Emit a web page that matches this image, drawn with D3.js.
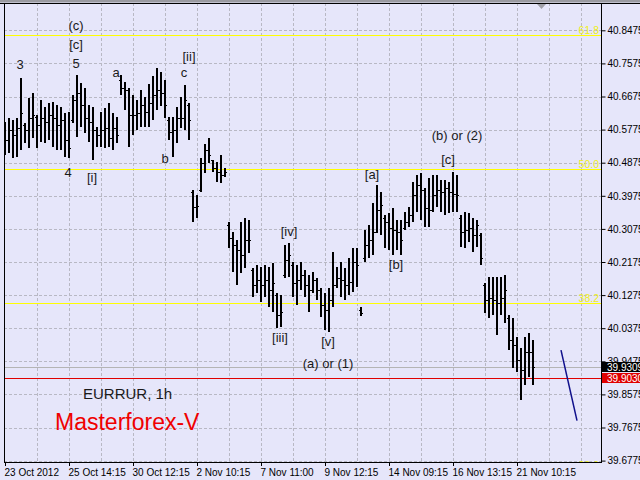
<!DOCTYPE html>
<html><head><meta charset="utf-8">
<script src="https://cdn.jsdelivr.net/npm/d3@7"></script>
<style>
html,body{margin:0;padding:0;background:#e6e6fa;}
svg{display:block;}
</style></head><body>
<svg id="chart" width="640" height="480"></svg>
<script>
// ---- data (EURRUR, OHLC bars, index = bar number) ----
const highs = [40.598,40.609,40.604,40.609,40.718,40.596,40.663,40.677,40.617,40.658,
40.639,40.650,40.652,40.644,40.639,40.623,40.625,40.672,40.726,40.704,
40.691,40.644,40.639,40.585,40.625,40.636,40.650,40.623,40.612,40.726,
40.707,40.691,40.672,40.658,40.685,40.666,40.702,40.723,40.745,40.734,
40.712,40.612,40.612,40.639,40.666,40.699,40.650,40.413,40.400,40.500,
40.538,40.555,40.495,40.490,40.508,40.473,40.326,40.299,40.277,40.326,
40.337,40.332,40.201,40.209,40.204,40.209,40.204,40.215,40.133,40.128,
40.264,40.269,40.218,40.209,40.218,40.196,40.182,40.190,40.174,40.147,
40.133,40.147,40.245,40.204,40.218,40.201,40.228,40.256,40.256,40.095,
40.304,40.318,40.378,40.427,40.408,40.345,40.351,40.364,40.332,40.332,
40.354,40.367,40.435,40.454,40.460,40.419,40.446,40.454,40.454,40.440,
40.440,40.435,40.462,40.454,40.345,40.354,40.351,40.337,40.332,40.296,
40.160,40.177,40.177,40.177,40.177,40.182,40.073,40.065,40.014,39.984,
40.014,40.025,40.006];
const lows = [40.508,40.514,40.500,40.503,40.522,40.541,40.528,40.555,40.528,40.544,
40.541,40.549,40.530,40.522,40.522,40.503,40.500,40.596,40.557,40.585,
40.568,40.544,40.495,40.530,40.530,40.528,40.530,40.522,40.541,40.672,
40.631,40.530,40.563,40.576,40.585,40.585,40.585,40.604,40.631,40.642,
40.609,40.549,40.503,40.541,40.582,40.576,40.549,40.326,40.337,40.408,
40.460,40.487,40.462,40.435,40.432,40.449,40.256,40.190,40.155,40.188,
40.201,40.242,40.122,40.133,40.109,40.122,40.095,40.082,40.038,40.041,
40.174,40.177,40.122,40.101,40.141,40.122,40.082,40.133,40.114,40.068,
40.033,40.027,40.095,40.147,40.122,40.114,40.128,40.136,40.150,40.071,
40.218,40.228,40.237,40.296,40.291,40.256,40.250,40.237,40.250,40.237,
40.304,40.313,40.326,40.354,40.332,40.313,40.313,40.354,40.367,40.354,
40.345,40.351,40.354,40.354,40.258,40.256,40.272,40.245,40.258,40.209,
40.079,40.065,40.073,40.019,40.073,40.052,39.978,39.929,39.919,39.842,
39.883,39.905,39.883];
const opens = [40.563,40.549,40.576,40.563,40.582,40.590,40.576,40.609,40.612,40.590,
40.609,40.598,40.617,40.609,40.590,40.604,40.549,40.604,40.658,40.677,
40.644,40.609,40.598,40.576,40.563,40.576,40.582,40.555,40.582,40.712,
40.691,40.685,40.617,40.617,40.623,40.644,40.625,40.650,40.672,40.685,
40.677,40.604,40.571,40.576,40.609,40.609,40.644,40.408,40.367,40.413,
40.487,40.522,40.495,40.473,40.462,40.454,40.318,40.283,40.264,40.250,
40.237,40.277,40.196,40.155,40.169,40.155,40.169,40.141,40.128,40.073,
40.182,40.223,40.209,40.160,40.169,40.182,40.155,40.141,40.169,40.141,
40.101,40.087,40.114,40.155,40.174,40.169,40.155,40.163,40.218,40.087,
40.228,40.264,40.277,40.299,40.359,40.337,40.326,40.310,40.304,40.299,
40.310,40.326,40.345,40.400,40.427,40.413,40.364,40.359,40.400,40.413,
40.408,40.419,40.408,40.402,40.337,40.299,40.304,40.310,40.291,40.291,
40.155,40.114,40.120,40.114,40.106,40.120,40.065,40.006,39.992,39.951,
39.924,39.973,39.973];
const closes = [40.549,40.576,40.563,40.582,40.623,40.576,40.609,40.617,40.590,40.609,
40.598,40.617,40.609,40.590,40.604,40.549,40.528,40.658,40.677,40.644,
40.609,40.598,40.576,40.563,40.576,40.582,40.555,40.582,40.563,40.691,
40.685,40.617,40.617,40.623,40.644,40.625,40.650,40.672,40.685,40.677,
40.644,40.571,40.576,40.609,40.609,40.658,40.604,40.367,40.370,40.487,
40.522,40.508,40.473,40.462,40.454,40.462,40.283,40.264,40.250,40.237,
40.277,40.277,40.155,40.169,40.155,40.169,40.141,40.160,40.073,40.082,
40.223,40.237,40.160,40.169,40.182,40.155,40.141,40.169,40.141,40.101,
40.087,40.114,40.155,40.174,40.169,40.155,40.163,40.218,40.209,40.079,
40.264,40.277,40.299,40.359,40.372,40.326,40.310,40.304,40.299,40.277,
40.326,40.345,40.400,40.427,40.413,40.364,40.359,40.400,40.413,40.408,
40.419,40.408,40.402,40.400,40.299,40.304,40.310,40.291,40.318,40.228,
40.114,40.120,40.114,40.106,40.120,40.141,40.006,39.992,39.951,39.924,
39.973,39.973,39.931];

const yTickValues = [40.8475,40.7575,40.6675,40.5775,40.4875,40.3975,40.3075,
  40.2175,40.1275,40.0375,39.9475,39.8575,39.7675,39.6775];
const xTickBars = [0,16,32,48,64,80,96,112,128];
const xTickLabels = ["23 Oct 2012","25 Oct 14:15","30 Oct 12:15","2 Nov 10:15",
  "7 Nov 11:00","9 Nov 12:15","14 Nov 09:15","16 Nov 13:15","21 Nov 10:15"];

const fibLabels = ["61.8","50.0","38.2","23.6"];
const fibPrices = [40.835,40.470,40.105,39.653];

const bidPrice = 39.9309;
const linePrice = 39.9030;

const forecastBars = [139,143];
const forecastPrices = [39.978,39.786];

const waveTexts  = ["(c)","[c]","5","3","a","[ii]","c","b","4","[i]",
  "[a]","(b) or (2)","[c]","[iv]","[b]","[iii]","[v]","(a) or (1)"];
const waveBars   = [17.75,17.75,17.75,3.75,27.75,46,44.75,40,15.75,21.75,
  91.75,113,110.75,71,97.75,68.75,80.75,80.75];
const wavePrices = [40.8475,40.796,40.745,40.742,40.721,40.765,40.721,40.488,40.449,40.434,
  40.443,40.548,40.484,40.289,40.199,39.999,39.990,39.929];

const symbolTitle = "EURRUR, 1h";
const brokerTitle = "Masterforex-V";

// ---- layout ----
const W = 640, H = 480;
const L = 4, T = 3, R = 601, B = 462;
const FONT = "'Liberation Sans', Arial, sans-serif";

const svg = d3.select("#chart");
const x = d3.scaleLinear().domain([0, 149]).range([5, 601]);
const y = d3.scaleLinear().domain([39.6775, 40.8475]).range([460.6, 30.3]);

svg.append("rect").attr("width", W).attr("height", H).attr("fill", "#e6e6fa");

svg.append("defs").append("clipPath").attr("id", "plot")
  .append("rect").attr("x", L).attr("y", T).attr("width", R - L).attr("height", B - T);

const plot = svg.append("g").attr("clip-path", "url(#plot)");

// grid
const gridColor = "#b8b8c4";
plot.append("g").selectAll("line").data(yTickValues).join("line")
  .attr("x1", L).attr("x2", R)
  .attr("y1", d => Math.round(y(d)) + 0.5).attr("y2", d => Math.round(y(d)) + 0.5)
  .attr("stroke", gridColor).attr("stroke-dasharray", "3,2");
plot.append("g").selectAll("line").data(d3.range(8, 149, 8)).join("line")
  .attr("x1", d => x(d) + 0.5).attr("x2", d => x(d) + 0.5)
  .attr("y1", T).attr("y2", B)
  .attr("stroke", gridColor).attr("stroke-dasharray", "3,2");

// fibonacci levels
plot.append("g").selectAll("line").data(fibPrices).join("line")
  .attr("x1", L).attr("x2", R)
  .attr("y1", d => Math.round(y(d)) + 0.5).attr("y2", d => Math.round(y(d)) + 0.5)
  .attr("stroke", "#ffff00");
plot.append("g").selectAll("text").data(fibPrices).join("text")
  .attr("x", 599).attr("y", d => Math.round(y(d)) - 1)
  .attr("text-anchor", "end").attr("font-family", FONT).attr("font-size", 10.5)
  .attr("fill", "#eeee20").text((d, i) => fibLabels[i]);

// horizontal price lines
plot.append("line").attr("x1", L).attr("x2", R)
  .attr("y1", Math.round(y(bidPrice)) + 0.5).attr("y2", Math.round(y(bidPrice)) + 0.5)
  .attr("stroke", "#b4b4b4");
plot.append("line").attr("x1", L).attr("x2", R)
  .attr("y1", Math.round(y(linePrice)) + 0.5).attr("y2", Math.round(y(linePrice)) + 0.5)
  .attr("stroke", "#e00000");

// OHLC bars
const bars = plot.append("g");
highs.forEach((h, i) => {
  const cx = x(i);
  const yh = Math.round(y(h)), yl = Math.round(y(lows[i]));
  bars.append("rect").attr("x", cx - 1).attr("y", yh).attr("width", 2)
    .attr("height", Math.max(1, yl - yh)).attr("fill", "#000");
  bars.append("rect").attr("x", cx - 2).attr("y", Math.round(y(opens[i])))
    .attr("width", 1).attr("height", 1).attr("fill", "#000");
  bars.append("rect").attr("x", cx + 1).attr("y", Math.round(y(closes[i])))
    .attr("width", 1).attr("height", 1).attr("fill", "#000");
});

// forecast line
plot.append("path")
  .datum(forecastBars.map((b, i) => [b, forecastPrices[i]]))
  .attr("d", d3.line().x(d => x(d[0])).y(d => y(d[1])))
  .attr("fill", "none").attr("stroke", "#10108c").attr("stroke-width", 1.5);

// wave labels
plot.append("g").selectAll("text").data(waveTexts).join("text")
  .attr("x", (d, i) => x(waveBars[i])).attr("y", (d, i) => y(wavePrices[i]))
  .attr("text-anchor", "middle").attr("font-family", FONT).attr("font-size", 13)
  .attr("fill", "#1a1a1a").text(d => d);

// titles
plot.append("text").attr("x", 83).attr("y", 399)
  .attr("font-family", FONT).attr("font-size", 15).attr("fill", "#1a1a1a")
  .text(symbolTitle);
plot.append("text").attr("x", 55).attr("y", 430)
  .attr("font-family", FONT).attr("font-size", 23).attr("fill", "#f00000")
  .text(brokerTitle);

// shift marker
svg.append("path").attr("d", "M537,4 L546,4 L541.5,9 Z").attr("fill", "#a0a0a8");

// frame
svg.append("rect").attr("x", 0).attr("y", 0).attr("width", W).attr("height", 2.5).attr("fill", "#9a9aa0");
svg.append("line").attr("x1", 0).attr("x2", W).attr("y1", 3.5).attr("y2", 3.5).attr("stroke", "#000");
svg.append("rect").attr("x", L + 0.5).attr("y", T + 0.5).attr("width", R - L).attr("height", B - T)
  .attr("fill", "none").attr("stroke", "#000");

// y axis
const yAxis = svg.append("g").attr("transform", `translate(${R + 0.5},0)`)
  .call(d3.axisRight(y).tickValues(yTickValues).tickSize(4).tickPadding(2)
    .tickFormat(d => d.toFixed(4)));
yAxis.select(".domain").remove();
yAxis.selectAll("text").attr("font-family", FONT).attr("font-size", 10).attr("fill", "#000");

// price labels on axis
const priceTags = [[bidPrice, "#000000"], [linePrice, "#e00000"]];
priceTags.forEach(([p, col]) => {
  const cy = Math.round(y(p));
  svg.append("rect").attr("x", R + 1).attr("y", cy - 5).attr("width", W - R - 1).attr("height", 10).attr("fill", col);
  svg.append("text").attr("x", 607).attr("y", cy).attr("dy", "0.35em")
    .attr("font-family", FONT).attr("font-size", 10).attr("fill", "#fff").text(p.toFixed(4));
});

// x axis
const xAxis = svg.append("g").attr("transform", `translate(0,${B})`)
  .call(d3.axisBottom(x).tickValues(xTickBars).tickSize(4).tickPadding(3)
    .tickFormat((d, i) => xTickLabels[i]));
xAxis.select(".domain").remove();
xAxis.selectAll("text").attr("text-anchor", "start").attr("dx", -1)
  .attr("font-family", FONT).attr("font-size", 10).attr("fill", "#000");
</script>
</body></html>
